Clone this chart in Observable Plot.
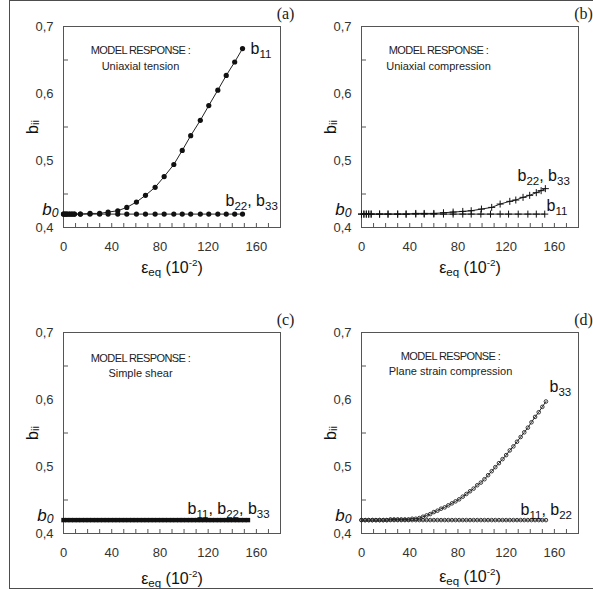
<!DOCTYPE html>
<html><head><meta charset="utf-8">
<script src="https://cdn.jsdelivr.net/npm/d3@7"></script>
<script src="https://cdn.jsdelivr.net/npm/@observablehq/plot@0.6"></script>
<style>
html,body{margin:0;padding:0;background:#fff;}
#fig{position:relative;width:593px;height:590px;overflow:hidden;background:#fff;font-family:"Liberation Sans",Arial,sans-serif;}
.panel{position:absolute;}
#border{position:absolute;left:9px;top:0;width:620px;height:587px;border:1.5px solid #4d4d4d;pointer-events:none;z-index:5;}
</style></head><body><div id="fig"><div id="border"></div></div>
<script>
// ---- axis ticks ----
const xTickLabels = [0, 40, 80, 120, 160];
const xMinorTicks = [0, 10, 20, 30, 40, 50, 60, 70, 80, 90, 100, 110, 120, 130, 140, 150, 160, 170];
const yTickLabels = [0.4, 0.5, 0.6, 0.7];
const yMinorTicks = [0.45, 0.55, 0.65];
const b0 = 0.42;

// ---- (a) uniaxial tension ----
const tensionStrain = [0, 1.5, 3, 5, 7, 9, 14, 22, 30, 37, 45, 52.5, 60.5, 68, 76, 83.5, 91.5, 98.5, 105.5, 113.5, 120.5, 128, 135, 142, 148.5];
const tensionB11 = [0.42, 0.42, 0.42, 0.42, 0.42, 0.42, 0.42, 0.421, 0.421, 0.423, 0.425, 0.430, 0.438, 0.448, 0.460, 0.476, 0.494, 0.515, 0.537, 0.560, 0.582, 0.605, 0.627, 0.647, 0.667];
const tensionB22B33 = [0.42, 0.42, 0.42, 0.42, 0.42, 0.42, 0.42, 0.42, 0.42, 0.42, 0.42, 0.42, 0.42, 0.42, 0.42, 0.42, 0.42, 0.42, 0.42, 0.42, 0.42, 0.42, 0.42, 0.42, 0.42];

// ---- (b) uniaxial compression ----
const compStrainB11 = [0, 2, 4, 6, 8, 15, 22, 30, 37, 45, 52, 60, 68, 76, 84, 91, 99, 107, 115, 122, 130, 138, 145, 152];
const compB11 = [0.42, 0.42, 0.42, 0.42, 0.42, 0.42, 0.42, 0.42, 0.42, 0.42, 0.42, 0.42, 0.42, 0.42, 0.42, 0.42, 0.42, 0.42, 0.42, 0.42, 0.42, 0.42, 0.42, 0.42];
const compStrainB22 = [0, 2, 4, 6, 8, 15, 22, 30, 37, 45, 52, 60, 68, 76, 84, 91, 99.5, 108, 115, 123, 128, 134, 139.5, 145, 149, 152.5];
const compB22B33 = [0.42, 0.42, 0.42, 0.42, 0.42, 0.42, 0.42, 0.42, 0.42, 0.421, 0.421, 0.421, 0.422, 0.423, 0.424, 0.425, 0.4275, 0.430, 0.435, 0.439, 0.441, 0.445, 0.448, 0.452, 0.455, 0.458];

// ---- (c) simple shear ----
const shearStrain = [0, 3, 6, 9, 12, 15, 18, 21, 24, 27, 30, 33, 36, 39, 42, 45, 48, 51, 54, 57, 60, 63, 66, 69, 72, 75, 78, 81, 84, 87, 90, 93, 96, 99, 102, 105, 108, 111, 114, 117, 120, 123, 126, 129, 132, 135, 138, 141, 144, 147, 150, 153];
const shearB = [0.42, 0.42, 0.42, 0.42, 0.42, 0.42, 0.42, 0.42, 0.42, 0.42, 0.42, 0.42, 0.42, 0.42, 0.42, 0.42, 0.42, 0.42, 0.42, 0.42, 0.42, 0.42, 0.42, 0.42, 0.42, 0.42, 0.42, 0.42, 0.42, 0.42, 0.42, 0.42, 0.42, 0.42, 0.42, 0.42, 0.42, 0.42, 0.42, 0.42, 0.42, 0.42, 0.42, 0.42, 0.42, 0.42, 0.42, 0.42, 0.42, 0.42, 0.42, 0.42];

// ---- (d) plane strain compression ----
const psStrain = [0, 3, 6, 9, 12, 15, 18, 21, 24, 27, 30, 33, 36, 39, 42, 45, 48, 51, 54, 57, 60, 63, 66, 69, 72, 75, 78, 81, 84, 87, 90, 93, 96, 99, 102, 105, 108, 111, 114, 117, 120, 123, 126, 129, 132, 135, 138, 141, 144, 147, 150, 153];
const psB33 = [0.420, 0.420, 0.420, 0.420, 0.420, 0.420, 0.420, 0.420, 0.421, 0.421, 0.421, 0.421, 0.421, 0.421, 0.422, 0.422, 0.423, 0.425, 0.427, 0.429, 0.432, 0.434, 0.437, 0.439, 0.442, 0.445, 0.448, 0.451, 0.455, 0.459, 0.463, 0.467, 0.472, 0.476, 0.481, 0.487, 0.493, 0.499, 0.505, 0.511, 0.517, 0.524, 0.530, 0.537, 0.544, 0.551, 0.558, 0.566, 0.574, 0.581, 0.589, 0.597];
const psB11B22 = [0.42, 0.42, 0.42, 0.42, 0.42, 0.42, 0.42, 0.42, 0.42, 0.42, 0.42, 0.42, 0.42, 0.42, 0.42, 0.42, 0.42, 0.42, 0.42, 0.42, 0.42, 0.42, 0.42, 0.42, 0.42, 0.42, 0.42, 0.42, 0.42, 0.42, 0.42, 0.42, 0.42, 0.42, 0.42, 0.42, 0.42, 0.42, 0.42, 0.42, 0.42, 0.42, 0.42, 0.42, 0.42, 0.42, 0.42, 0.42, 0.42, 0.42, 0.42, 0.42];

const rows = (xs, ys) => xs.map((x, i) => ({x, y: ys[i]}));

const markerStyles = {
  dotFilled: {r: 2.6, fill: "#111", stroke: "none"},
  plus: {symbol: "plus", r: 2.4, stroke: "#111", strokeWidth: 1, fill: "none"},
  square: {symbol: "square", r: 2.5, fill: "#111", stroke: "none"},
  ring: {symbol: "circle", r: 1.8, stroke: "#222", strokeWidth: 0.9, fill: "none"}
};

const panels = [
  {id: "a", left: 0, top: 0, title: "Uniaxial tension", titleDx: 77, titleDy: [27, 43], b0Dx: -5, xLabelDy: 45,
   series: [{d: rows(tensionStrain, tensionB22B33), m: "dotFilled"}, {d: rows(tensionStrain, tensionB11), m: "dotFilled"}],
   labels: [{t: "b_{11}", dx: 187, dy: 27}, {t: "b_{22}, b_{33}", dx: 162, dy: 179}]},
  {id: "b", left: 298, top: 0, title: "Uniaxial compression", titleDx: 77, titleDy: [27, 43], b0Dx: -10, xLabelDy: 45,
   series: [{d: rows(compStrainB11, compB11), m: "plus"}, {d: rows(compStrainB22, compB22B33), m: "plus"}],
   labels: [{t: "b_{22}, b_{33}", dx: 156, dy: 154}, {t: "b_{11}", dx: 185, dy: 184}]},
  {id: "c", left: 0, top: 306, title: "Simple shear", titleDx: 77, titleDy: [29, 44], b0Dx: -10, xLabelDy: 50,
   series: [{d: rows(shearStrain, shearB), m: "square"}],
   labels: [{t: "b_{11}, b_{22}, b_{33}", dx: 124, dy: 181}]},
  {id: "d", left: 298, top: 306, title: "Plane strain compression", titleDx: 89, titleDy: [27, 42], b0Dx: -10, xLabelDy: 48,
   series: [{d: rows(psStrain, psB11B22), m: "ring"}, {d: rows(psStrain, psB33), m: "ring"}],
   labels: [{t: "b_{33}", dx: 188, dy: 59}, {t: "b_{11}, b_{22}", dx: 159, dy: 182}]}
];

function richText(svg) {
  d3.select(svg).selectAll("text").each(function () {
    const s = this.textContent;
    if (!/[_^]\{/.test(s)) return;
    const base = parseFloat(getComputedStyle(this).fontSize) || 13;
    const subShift = s.startsWith("b_{ii}") ? 0.1 : s.startsWith("b_{0}") ? 0.12 : s.startsWith("ε") ? 0.2 : 0.25;
    const parts = [];
    const re = /([_^])\{([^}]*)\}/g;
    let last = 0, m;
    while ((m = re.exec(s))) {
      if (m.index > last) parts.push({t: s.slice(last, m.index), k: ""});
      parts.push({t: m[2], k: m[1]});
      last = re.lastIndex;
    }
    if (last < s.length) parts.push({t: s.slice(last), k: ""});
    this.textContent = "";
    let cur = 0;
    for (const p of parts) {
      const ts = d3.select(this).append("tspan").text(p.t);
      const target = p.k === "_" ? base * subShift : p.k === "^" ? -base * 0.42 : 0;
      if (target - cur !== 0) ts.attr("dy", target - cur);
      cur = target;
      if (p.k === "_") ts.attr("font-size", base * 0.72);
      if (p.k === "^") ts.attr("font-size", base * 0.62);
    }
  });
  d3.select(svg).selectAll("text").filter(function () {
    return this.textContent.startsWith("MODEL");
  }).attr("letter-spacing", "-0.6");
}

const fig = document.getElementById("fig");
for (const p of panels) {
  const marks = [
    Plot.frame({stroke: "#555", strokeWidth: 1}),
    Plot.axisX({ticks: xMinorTicks, tickSize: -4, tickFormat: () => "", label: null, stroke: "#555"}),
    Plot.axisY({ticks: yMinorTicks, tickSize: -5, tickFormat: () => "", label: null, stroke: "#555"}),
    Plot.axisX({ticks: xTickLabels, tickSize: 0, tickPadding: 14, tickFormat: d => String(d), label: null, fill: "#333"}),
    Plot.axisY({ticks: yTickLabels, tickSize: 0, tickPadding: 10, tickFormat: d => d.toFixed(1).replace(".", ","), label: null, fill: "#333"})
  ];
  for (const s of p.series) {
    marks.push(Plot.line(s.d, {x: "x", y: "y", stroke: "#222", strokeWidth: 1}));
  }
  for (const s of p.series) {
    marks.push(Plot.dot(s.d, {x: "x", y: "y", ...markerStyles[s.m]}));
  }
  marks.push(
    Plot.text(["MODEL RESPONSE :"], {frameAnchor: "top-left", dx: p.titleDx, dy: p.titleDy[0], text: d => d, textAnchor: "middle", lineAnchor: "bottom", fontSize: 11, fill: "#222"}),
    Plot.text([p.title], {frameAnchor: "top-left", dx: p.titleDx, dy: p.titleDy[1], text: d => d, textAnchor: "middle", lineAnchor: "bottom", fontSize: 11, fill: "#222"}),
    Plot.text(["(" + p.id + ")"], {frameAnchor: "top-right", dx: 5, dy: -8, text: d => d, textAnchor: "middle", lineAnchor: "bottom", fontSize: 16, fontFamily: "'Liberation Serif', 'Times New Roman', serif", fill: "#222"}),
    Plot.text([b0], {y: d => d, frameAnchor: "left", dx: p.b0Dx, dy: 1, text: () => "b_{0}", textAnchor: "end", lineAnchor: "bottom", fontSize: 17, fontStyle: "italic", fill: "#111"}),
    Plot.text(["b_{ii}"], {frameAnchor: "left", dx: -26, rotate: -90, text: d => d, textAnchor: "middle", lineAnchor: "bottom", fontSize: 16, fill: "#111"}),
    Plot.text(["ε_{eq} (10^{-2})"], {frameAnchor: "bottom", dy: p.xLabelDy, text: d => d, textAnchor: "middle", lineAnchor: "bottom", fontSize: 16, fill: "#111"})
  );
  for (const l of p.labels) {
    marks.push(Plot.text([l.t], {frameAnchor: "top-left", dx: l.dx, dy: l.dy, text: d => d, textAnchor: "start", lineAnchor: "bottom", fontSize: 16, fill: "#111"}));
  }
  const chart = Plot.plot({
    width: 293, height: 295,
    marginLeft: 63, marginRight: 13, marginTop: 26, marginBottom: 68,
    style: {fontFamily: "Liberation Sans, Arial, sans-serif", fontSize: "13px", color: "#222", background: "transparent", overflow: "visible"},
    x: {domain: [0, 180]},
    y: {domain: [0.4, 0.7]},
    marks
  });
  chart.classList.add("panel");
  chart.style.left = p.left + "px";
  chart.style.top = p.top + "px";
  fig.appendChild(chart);
  richText(chart);
}
</script></body></html>
